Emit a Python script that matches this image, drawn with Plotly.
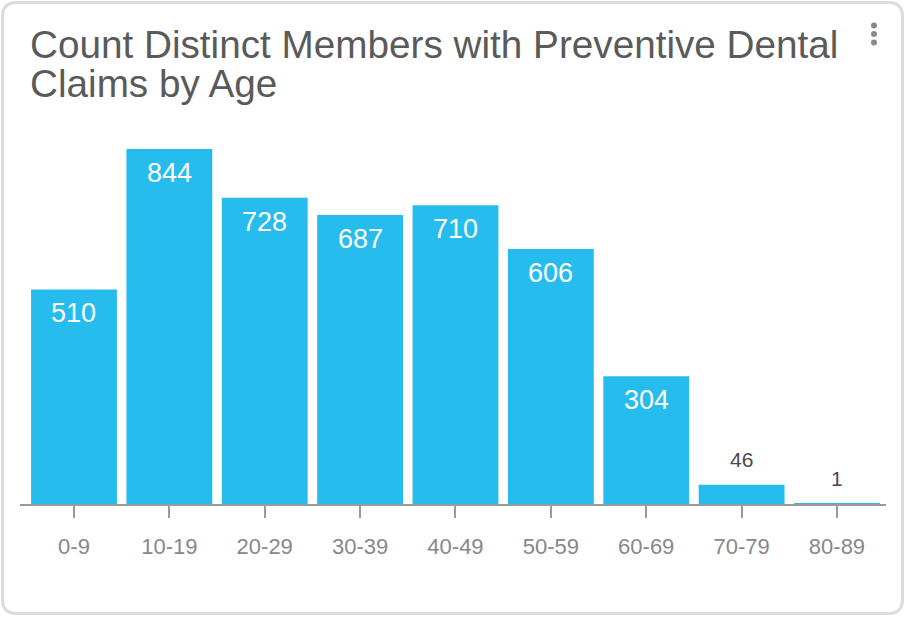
import plotly.graph_objects as go

categories = ["0-9", "10-19", "20-29", "30-39", "40-49", "50-59", "60-69", "70-79", "80-89"]
counts = [510, 844, 728, 687, 710, 606, 304, 46, 1]
title_lines = ["Count Distinct Members with Preventive Dental", "Claims by Age"]

W, H = 906, 618
L, R, T, B = 20, 20, 130, 114
PW = W - L - R
PH = H - T - B


def px(x):
    return (x - L) / PW


def py(y):
    return (H - B - y) / PH


FONT = "Helvetica Neue, Arial, Liberation Sans, sans-serif"
BAR = "#27BCEE"

fig = go.Figure(
    go.Bar(
        x=categories,
        y=counts,
        marker=dict(color=BAR, line=dict(width=0)),
        width=0.90,
        hoverinfo="skip",
    )
)

annotations = []
for c, v in zip(categories, counts):
    if v >= 100:
        annotations.append(dict(
            x=c, y=v, xref="x", yref="y", text=str(v), showarrow=False,
            yanchor="top", yshift=-7,
            font=dict(family=FONT, size=27, color="white"),
        ))
    else:
        annotations.append(dict(
            x=c, y=v, xref="x", yref="y", text=str(v), showarrow=False,
            yanchor="bottom", yshift=12,
            font=dict(family=FONT, size=21, color="#4a4a4a"),
        ))

for i, (line, ymid) in enumerate(zip(title_lines, [44.5, 84])):
    annotations.append(dict(
        x=px(28), y=py(ymid), xref="paper", yref="paper", text=line,
        showarrow=False, xanchor="left", yanchor="middle",
        font=dict(family=FONT, size=38.7, color="#5a5a5a"),
    ))

shapes = []
# card border with rounded corners
x0, y0, x1, y1, r = 2.5, 2.5, 902.5, 613.5, 14
path = (
    f"M {px(x0 + r)},{py(y0)} L {px(x1 - r)},{py(y0)} "
    f"Q {px(x1)},{py(y0)} {px(x1)},{py(y0 + r)} "
    f"L {px(x1)},{py(y1 - r)} Q {px(x1)},{py(y1)} {px(x1 - r)},{py(y1)} "
    f"L {px(x0 + r)},{py(y1)} Q {px(x0)},{py(y1)} {px(x0)},{py(y1 - r)} "
    f"L {px(x0)},{py(y0 + r)} Q {px(x0)},{py(y0)} {px(x0 + r)},{py(y0)} Z"
)
shapes.append(dict(type="path", path=path, xref="paper", yref="paper",
                   line=dict(color="#dcdcdc", width=3), layer="below"))
# kebab menu dots
for cy in [25.5, 34, 42.5]:
    shapes.append(dict(type="circle", xref="paper", yref="paper",
                       x0=px(871), x1=px(877), y0=py(cy + 3), y1=py(cy - 3),
                       fillcolor="#8a8a8a", line=dict(width=0)))

fig.update_layout(
    width=W, height=H,
    margin=dict(l=L, r=R, t=T, b=B, pad=0),
    paper_bgcolor="white", plot_bgcolor="white",
    showlegend=False,
    annotations=annotations,
    shapes=shapes,
    xaxis=dict(
        type="category", range=[-0.566, 8.514],
        showline=True, linecolor="#9a9a9a", linewidth=1.5,
        ticks="outside", ticklen=12, tickwidth=1.5, tickcolor="#9a9a9a",
        tickfont=dict(family=FONT, size=22, color="#888888"),
        showgrid=False, zeroline=False, fixedrange=True,
        ticklabelstandoff=10,
    ),
    yaxis=dict(
        range=[0, 889.2], visible=False, showgrid=False, zeroline=False,
        fixedrange=True,
    ),
)

fig.write_html("out.html", config={"displayModeBar": False})
